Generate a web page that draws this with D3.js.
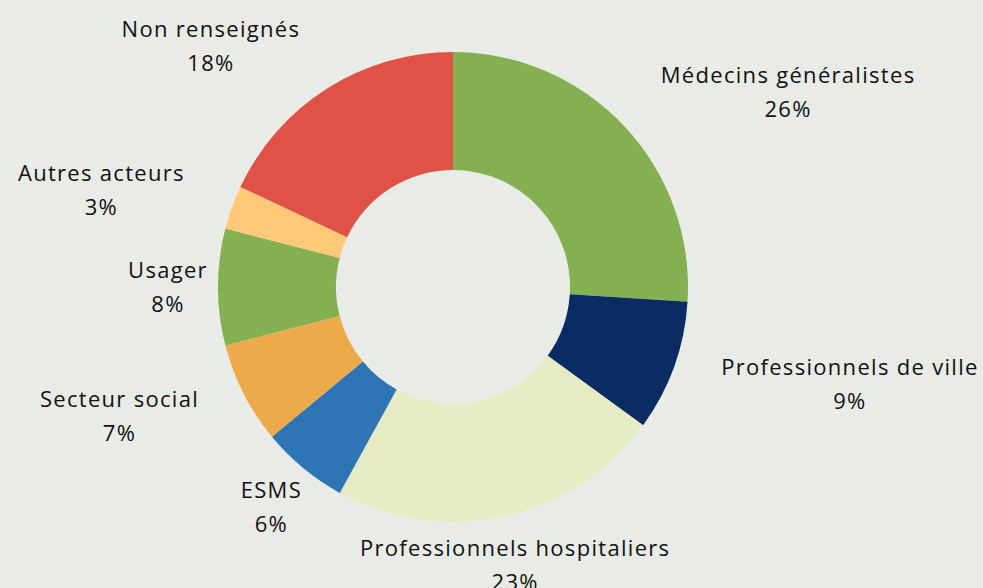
<!DOCTYPE html>
<html>
<head>
<meta charset="utf-8">
<script src="https://cdn.jsdelivr.net/npm/d3@7"></script>
<style>
  html, body { margin: 0; padding: 0; background: #e9ece6; }
  svg { display: block; }
  text { font-family: "Open Sans", "DejaVu Sans", sans-serif; fill: #111; }
</style>
</head>
<body>
<div id="chart"></div>
<script>
// Répartition des déclarants
const categories = [
  'Médecins généralistes', 'Professionnels de ville', 'Professionnels hospitaliers',
  'ESMS', 'Secteur social', 'Usager', 'Autres acteurs', 'Non renseignés'
];
const values = [26, 9, 23, 6, 7, 8, 3, 18];
const colors = ['#84b052', '#0b2c62', '#e6ebc4', '#2e75b6', '#ecaa4b', '#84b052', '#ffc977', '#e05248'];

const width = 983, height = 588;
const cx = 453, cy = 287;
const outerR = 235, innerR = 117;
const labelR = 285;
const fontSize = 22, lineGap = 34;

const svg = d3.select('#chart').append('svg')
  .attr('width', width).attr('height', height);

svg.append('rect').attr('width', width).attr('height', height).attr('fill', '#e9ece6');

const pie = d3.pie().sort(null).value(d => d);
const arcs = pie(values);
const arc = d3.arc().innerRadius(innerR).outerRadius(outerR);

const g = svg.append('g').attr('transform', `translate(${cx},${cy})`);

g.selectAll('path').data(arcs).join('path')
  .attr('d', arc)
  .attr('fill', (d, i) => colors[i]);

// labels: centred on a ring, pushed sideways when they would cover the donut
const lab = g.selectAll('text.lab').data(arcs).join('text')
  .attr('class', 'lab')
  .attr('text-anchor', 'middle')
  .attr('font-size', fontSize)
  .attr('letter-spacing', 1.3);

lab.each(function(d, i) {
  const t = d3.select(this);
  t.append('tspan').attr('x', 0).text(categories[i]);
  t.append('tspan').attr('x', 0).attr('dy', lineGap).text(d3.format('.0%')(values[i] / d3.sum(values)));

  const w = this.getBBox().width;
  const h = 58;
  const mid = (d.startAngle + d.endAngle) / 2;
  const s = Math.sin(mid), c = Math.cos(mid);
  let x = labelR * s, y = -labelR * c;

  const nx = Math.max(x - w / 2, Math.min(0, x + w / 2));
  const ny = Math.max(y - h / 2, Math.min(0, y + h / 2));
  if (Math.hypot(nx, ny) < outerR) x += Math.sign(s) * w / 2;

  t.attr('transform', `translate(${x},${y - 9})`);
});
</script>
</body>
</html>
